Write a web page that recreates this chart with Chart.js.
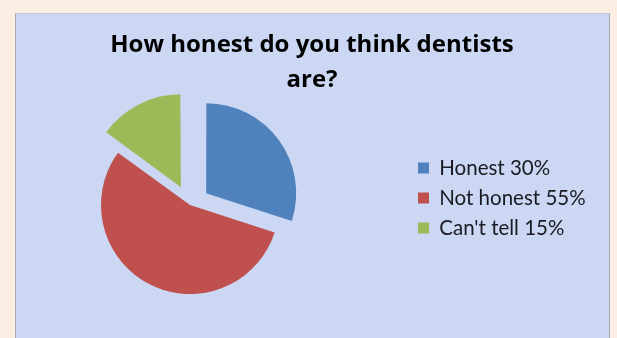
<!DOCTYPE html>
<html>
<head>
<meta charset="utf-8">
<script src="https://cdn.jsdelivr.net/npm/chart.js@4"></script>
<style>
  html, body { margin: 0; padding: 0; }
  body { width: 617px; height: 338px; background: #fdeee3; position: relative; overflow: hidden; }
  #panel {
    position: absolute; left: 15px; top: 13px; width: 593px; height: 330px;
    background: #cbd7f3;
    border-left: 1px solid #a9a9b4; border-top: 1px solid #c4c8d8; border-right: 1px solid #a9a9b4;
  }
  #wrap { position: absolute; left: 0; top: 0; width: 617px; height: 338px; }
</style>
</head>
<body>
<div id="panel"></div>
<div id="wrap"><canvas id="chart" width="617" height="338"></canvas></div>
<script>
// data
const categories = ['Honest', 'Not honest', "Can't tell"];
const percents = [30, 55, 15];
const sliceColors = ['#4f81bd', '#c0504d', '#9bbb59'];
const explode = [80, 0, 80]; // arc offset (drawn at 1/4)
const titleLines = ['How honest do you think dentists', 'are?'];

const labels = categories.map((c, i) => c + ' ' + percents[i] + '%');

// put the pie and the legend where the reference has them
const placeItems = {
  id: 'placeItems',
  afterLayout(chart) {
    chart.chartArea = { left: 91, top: 106, right: 289, bottom: 304, width: 198, height: 198 };
    const lg = chart.legend;
    const w = lg.width, h = lg.height;
    lg.left = 408.5; lg.right = 408.5 + w;
    lg.top = 148.25; lg.bottom = 148.25 + h;
  }
};

const ctx = document.getElementById('chart').getContext('2d');
new Chart(ctx, {
  type: 'pie',
  data: {
    labels: labels,
    datasets: [{
      data: percents,
      backgroundColor: sliceColors,
      borderWidth: 0,
      offset: explode,
      hoverOffset: 0
    }]
  },
  options: {
    responsive: false,
    animation: false,
    radius: 89,
    layout: { padding: { left: 7, top: 28 } },
    plugins: {
      title: {
        display: true,
        text: titleLines,
        color: '#000',
        font: { family: 'Open Sans', size: 24, weight: 'bold', lineHeight: 1.44 },
        padding: { top: 0, bottom: 4 }
      },
      legend: {
        position: 'right',
        align: 'start',
        labels: {
          boxWidth: 11,
          boxHeight: 11,
          padding: 9.5,
          color: '#1a1a22',
          font: { family: 'Lato', size: 20.5 }
        }
      },
      tooltip: { enabled: false }
    }
  },
  plugins: [placeItems]
});
</script>
</body>
</html>
